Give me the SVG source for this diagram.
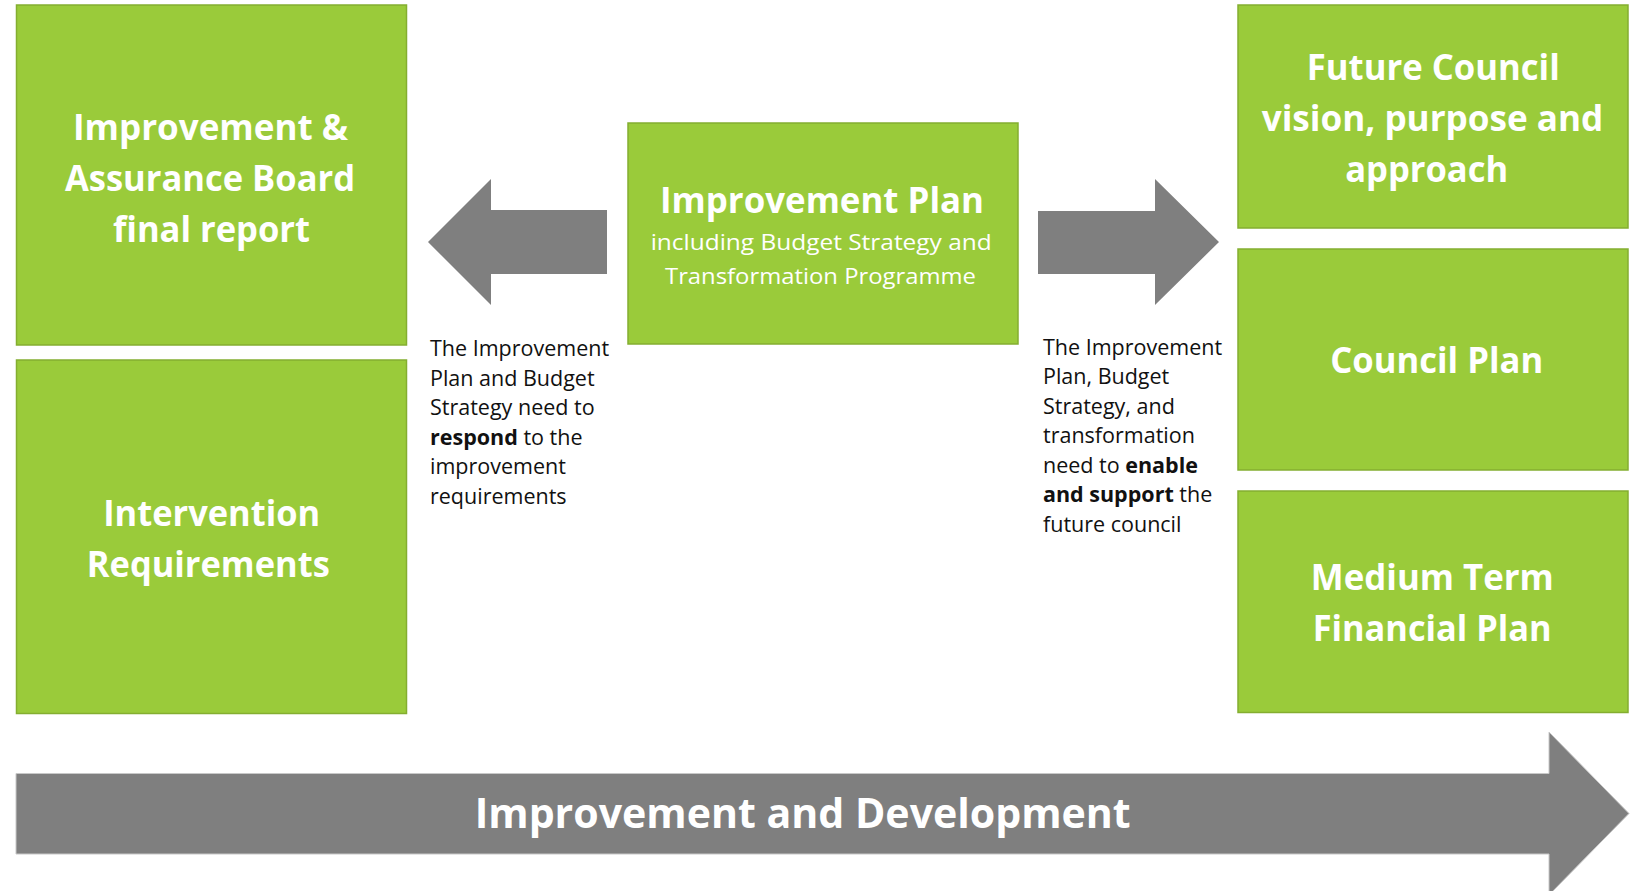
<svg xmlns="http://www.w3.org/2000/svg" width="1631" height="891" viewBox="0 0 1631 891">
<style>
.box{fill:#9ACB3A;stroke:#84AE30;stroke-width:1.5}
.arrow{fill:#7F7F7F}
.big{font-family:"Open Sans","Liberation Sans",sans-serif;font-weight:bold;fill:#fff;text-anchor:middle}
.sub{font-family:"Open Sans","Liberation Sans",sans-serif;font-weight:normal;fill:#fff;text-anchor:middle;font-size:21.5px}
.note{font-family:"Open Sans","Liberation Sans",sans-serif;font-size:21.5px;fill:#111}
.b{font-weight:bold}
</style>
<rect width="1631" height="891" fill="#fff"/>
<g id="connectors">
  <polygon class="arrow" points="607,210 491,210 491,179 428,242 491,305 491,274 607,274"/>
  <polygon class="arrow" points="1038,211 1155,211 1155,179 1219,242 1155,305 1155,274 1038,274"/>
  <polygon class="arrow" points="16,773.5 1549,773.5 1549,732 1629,813.5 1549,895 1549,854 16,854" stroke="#c8c8c8" stroke-width="1"/>
  <text class="big" x="802.7" y="828.3" font-size="42" textLength="656" lengthAdjust="spacingAndGlyphs">Improvement and Development</text>
</g>
<g id="node-iab">
  <rect class="box" x="16.5" y="5" width="390" height="340"/>
  <text class="big" font-size="35" x="210.5" y="139.5" textLength="275" lengthAdjust="spacingAndGlyphs">Improvement &amp;</text>
  <text class="big" font-size="35" x="210" y="191" textLength="290" lengthAdjust="spacingAndGlyphs">Assurance Board</text>
  <text class="big" font-size="35" x="211.5" y="242" textLength="197" lengthAdjust="spacingAndGlyphs">final report</text>
</g>
<g id="node-intervention">
  <rect class="box" x="16.5" y="360" width="390" height="353.5"/>
  <text class="big" font-size="35" x="211.7" y="526" textLength="217" lengthAdjust="spacingAndGlyphs">Intervention</text>
  <text class="big" font-size="35" x="208.3" y="576.5" textLength="243" lengthAdjust="spacingAndGlyphs">Requirements</text>
</g>
<g id="node-improvement-plan">
  <rect class="box" x="628" y="123" width="390" height="221"/>
  <text class="big" font-size="36" x="822" y="213" textLength="324" lengthAdjust="spacingAndGlyphs">Improvement Plan</text>
  <text class="sub" x="821.2" y="249.8" textLength="341" lengthAdjust="spacingAndGlyphs">including Budget Strategy and</text>
  <text class="sub" x="820.5" y="283.5" textLength="311" lengthAdjust="spacingAndGlyphs">Transformation Programme</text>
</g>
<g id="node-future-council">
  <rect class="box" x="1238" y="5" width="390" height="223"/>
  <text class="big" font-size="35" x="1433.3" y="80" textLength="253" lengthAdjust="spacingAndGlyphs">Future Council</text>
  <text class="big" font-size="35" x="1432.5" y="131" textLength="341.6" lengthAdjust="spacingAndGlyphs">vision, purpose and</text>
  <text class="big" font-size="35" x="1426.7" y="182" textLength="163" lengthAdjust="spacingAndGlyphs">approach</text>
</g>
<g id="node-council-plan">
  <rect class="box" x="1238" y="249" width="390" height="221"/>
  <text class="big" font-size="35" x="1436.7" y="372.7" textLength="213" lengthAdjust="spacingAndGlyphs">Council Plan</text>
</g>
<g id="node-mtfp">
  <rect class="box" x="1238" y="491" width="390" height="221.5"/>
  <text class="big" font-size="35" x="1432.3" y="590" textLength="243" lengthAdjust="spacingAndGlyphs">Medium Term</text>
  <text class="big" font-size="35" x="1432.2" y="641" textLength="239" lengthAdjust="spacingAndGlyphs">Financial Plan</text>
</g>
<g id="label-respond">
  <text class="note" x="430" y="356">The Improvement</text>
  <text class="note" x="430" y="385.5">Plan and Budget</text>
  <text class="note" x="430" y="415">Strategy need to</text>
  <text class="note" x="430" y="444.5"><tspan class="b">respond</tspan> to the</text>
  <text class="note" x="430" y="474">improvement</text>
  <text class="note" x="430" y="503.5">requirements</text>
</g>
<g id="label-enable">
  <text class="note" x="1043" y="354.5">The Improvement</text>
  <text class="note" x="1043" y="384">Plan, Budget</text>
  <text class="note" x="1043" y="413.5">Strategy, and</text>
  <text class="note" x="1043" y="443">transformation</text>
  <text class="note" x="1043" y="472.5">need to <tspan class="b">enable</tspan></text>
  <text class="note" x="1043" y="502"><tspan class="b">and support</tspan> the</text>
  <text class="note" x="1043" y="531.5">future council</text>
</g>
</svg>
